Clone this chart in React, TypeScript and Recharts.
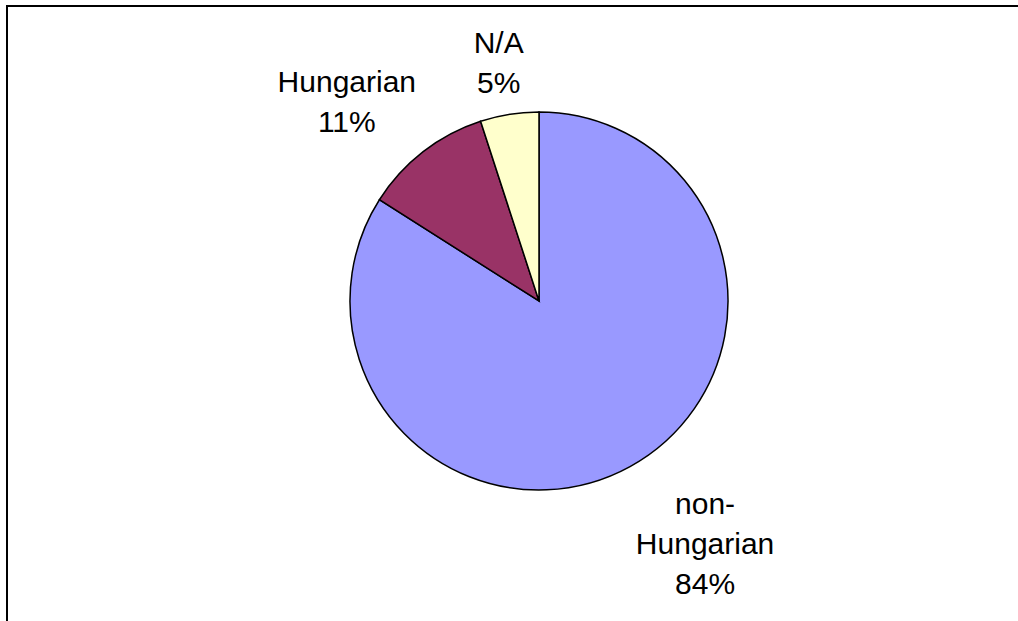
import * as React from "react";
import { PieChart, Pie, Cell } from "recharts";

const categories = ["non-Hungarian", "Hungarian", "N/A"];
const shares = [84, 11, 5];
const sliceColors = ["#9999FF", "#993366", "#FFFFCC"];

const labelLines = [["non-", "Hungarian"], ["Hungarian"], ["N/A"]];

const data = categories.map((name, i) => ({ name, value: shares[i] }));

const FONT = "'Liberation Sans', Arial, sans-serif";
const FONT_SIZE = 30;
const LINE_H = 40;
const RADIAN = Math.PI / 180;

const clamp = (v: number) => Math.max(-1, Math.min(1, v));

// rough text width for Arial-like font
const textWidth = (s: string) => s.length * FONT_SIZE * 0.52;

function renderLabel(props: any) {
  const { cx, cy, midAngle, outerRadius, index, value } = props;
  const lines = [...labelLines[index], `${value}%`];
  const w = Math.max(...lines.map(textWidth));
  const h = lines.length * LINE_H;
  const cos = Math.cos(-midAngle * RADIAN);
  const sin = Math.sin(-midAngle * RADIAN);
  const r = outerRadius + 10;
  const px = cx + r * cos;
  const py = cy + r * sin;
  const x = px + (w / 2) * clamp(cos * 2.5);
  // labels under the pie sit a bit lower, like the original
  const y = py + (h / 2) * clamp(sin * 2) + (sin > 0 ? 8 : -2);
  return (
    <text
      x={x}
      y={y}
      textAnchor="middle"
      fill="#000"
      fontFamily={FONT}
      fontSize={FONT_SIZE}
    >
      {lines.map((t, i) => (
        <tspan
          key={i}
          x={x}
          y={y + (i - (lines.length - 1) / 2) * LINE_H}
          dominantBaseline="central"
        >
          {t}
        </tspan>
      ))}
    </text>
  );
}

export default function App() {
  React.useEffect(() => {
    document.body.style.margin = "0";
    document.body.style.overflow = "hidden";
  }, []);
  return (
    <div
      style={{
        position: "absolute",
        left: 0,
        top: 0,
        width: 1018,
        height: 621,
        overflow: "hidden",
        background: "#fff",
      }}
    >
      <div
        style={{
          position: "absolute",
          left: 6,
          top: 5,
          width: 1200,
          height: 800,
          borderTop: "2px solid #000",
          borderLeft: "2px solid #000",
          boxSizing: "border-box",
        }}
      />
      <div style={{ position: "absolute", left: 0, top: 0 }}>
        <PieChart
          width={1018}
          height={621}
          margin={{ top: 0, right: 0, bottom: 0, left: 0 }}
        >
          <Pie
            data={data}
            dataKey="value"
            nameKey="name"
            cx={539}
            cy={301}
            outerRadius={189}
            startAngle={90}
            endAngle={-270}
            stroke="#000"
            strokeWidth={1.5}
            label={renderLabel}
            labelLine={false}
            isAnimationActive={false}
          >
            {data.map((d, i) => (
              <Cell key={d.name} fill={sliceColors[i]} />
            ))}
          </Pie>
        </PieChart>
      </div>
    </div>
  );
}
